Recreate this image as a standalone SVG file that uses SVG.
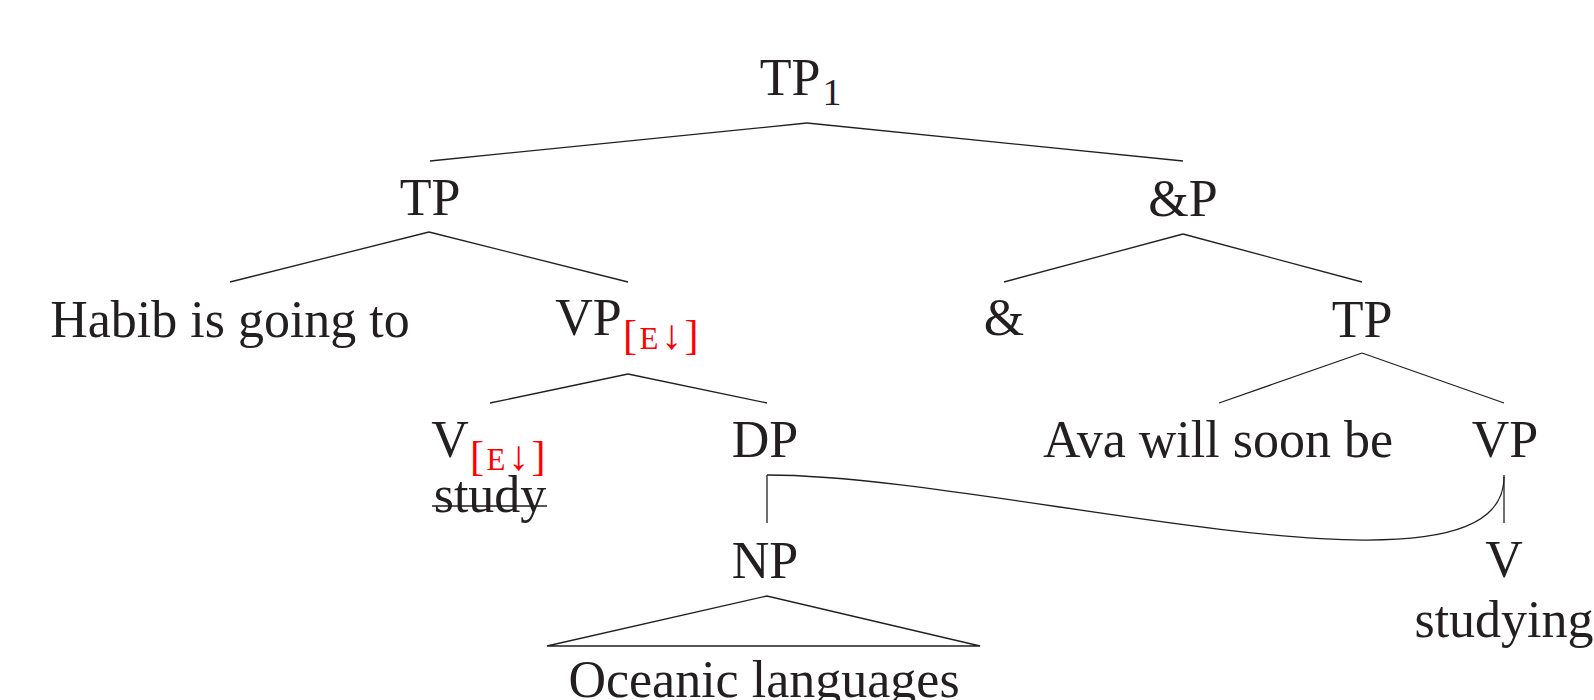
<svg xmlns="http://www.w3.org/2000/svg" width="1594" height="700" viewBox="0 0 1594 700">
<style>
text{font-family:"Liberation Serif","Times New Roman",serif;fill:#231f20;font-size:52px}
.m{text-anchor:middle}
.sub{font-size:38px}
.f{fill:#ff0000;font-size:42px;letter-spacing:2.5px}
.sc{font-size:31px}
.e line,.e path,.e polygon{stroke:#231f20;stroke-width:1.3;fill:none}
</style>
<rect width="1594" height="700" fill="#ffffff"/>
<g id="connectors" class="e">
<line x1="807" y1="123" x2="430" y2="161"/>
<line x1="807" y1="123" x2="1183" y2="161"/>
<line x1="429" y1="232" x2="230" y2="282"/>
<line x1="429" y1="232" x2="628" y2="282"/>
<line x1="1183" y1="234" x2="1004" y2="282"/>
<line x1="1183" y1="234" x2="1362" y2="282"/>
<line x1="628" y1="374" x2="490" y2="403"/>
<line x1="628" y1="374" x2="767" y2="403"/>
<line x1="1362" y1="353" x2="1219" y2="403"/>
<line x1="1362" y1="353" x2="1504" y2="403"/>
<line x1="767" y1="475" x2="767" y2="523"/>
<line x1="1504" y1="475" x2="1504" y2="523"/>
<polygon points="767,596 547,646 980,646"/>
<path d="M767,475 C1000,475 1504,620 1504,477"/>
</g>
<g id="n-tp1"><text class="m" x="790" y="95">TP</text><text class="m sub" x="832" y="105">1</text></g>
<g id="n-tp-left"><text class="m" x="430" y="215">TP</text></g>
<g id="n-andp"><text class="m" x="1183" y="216">&amp;P</text></g>
<g id="n-habib"><text class="m" x="230" y="337">Habib is going to</text></g>
<g id="n-vp-e"><text class="m" x="588.5" y="335">VP</text><text class="f" x="623" y="349">[<tspan class="sc">E</tspan>↓]</text></g>
<g id="n-and"><text class="m" x="1004" y="335">&amp;</text></g>
<g id="n-tp-right"><text class="m" x="1362" y="337">TP</text></g>
<g id="n-v-e"><text class="m" x="450" y="457">V</text><text class="f" x="470" y="470">[<tspan class="sc">E</tspan>↓]</text></g>
<g id="n-study"><text class="m" x="490" y="512">study</text><line x1="432" y1="506" x2="547" y2="506" stroke="#231f20" stroke-width="1.5"/></g>
<g id="n-dp"><text class="m" x="765" y="457">DP</text></g>
<g id="n-ava"><text class="m" x="1218" y="457">Ava will soon be</text></g>
<g id="n-vp-right"><text class="m" x="1505" y="457">VP</text></g>
<g id="n-np"><text class="m" x="765" y="578">NP</text></g>
<g id="n-v-right"><text class="m" x="1504" y="577">V</text></g>
<g id="n-studying"><text class="m" x="1504" y="637">studying</text></g>
<g id="n-oceanic"><text class="m" x="764" y="697">Oceanic languages</text></g>
</svg>
